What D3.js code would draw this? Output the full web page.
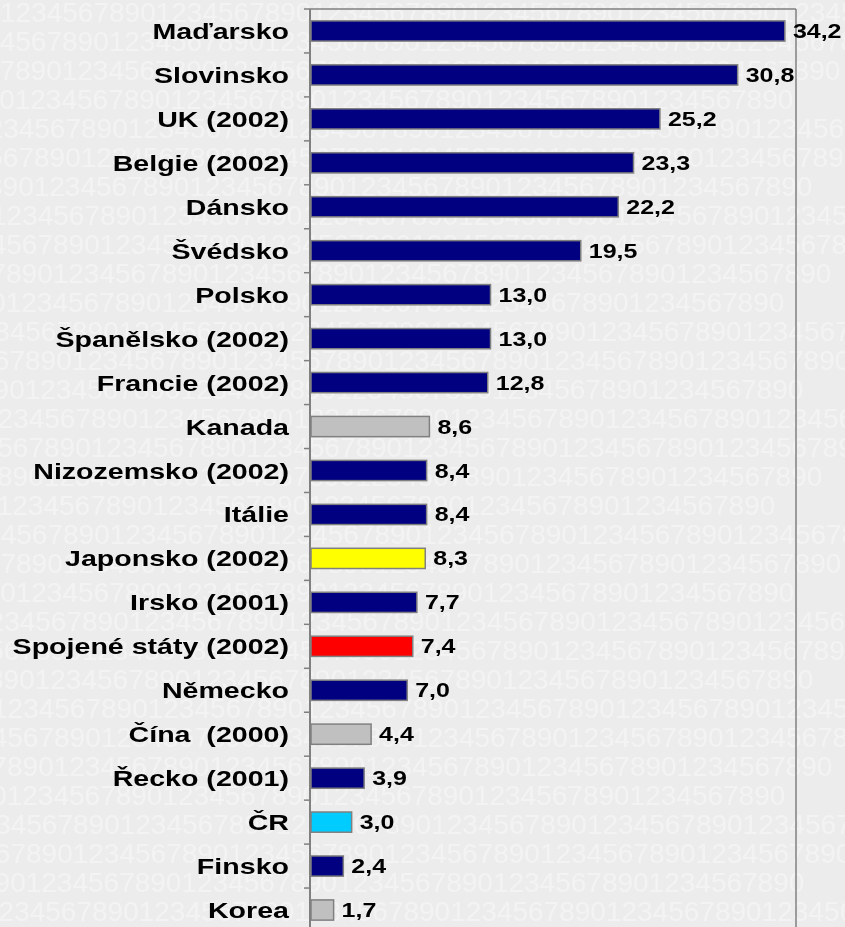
<!DOCTYPE html>
<html lang="cs">
<head>
  <meta charset="UTF-8">
  <title>Graf</title>
  <script src="https://d3js.org/d3.v7.min.js"></script>
  <style>
    body { margin: 0; background: #eeeeee; }
    #pozadi, svg { position: absolute; left: 0; top: 0; }
    text { font-family: "Liberation Sans", Arial, sans-serif; font-weight: bold; white-space: pre; }
  </style>
</head>
<body>
<canvas id="pozadi" width="845" height="927"></canvas>
<script>
var zeme = ["Maďarsko", "Slovinsko", "UK (2002)", "Belgie (2002)", "Dánsko", "Švédsko", "Polsko",
  "Španělsko (2002)", "Francie (2002)", "Kanada", "Nizozemsko (2002)", "Itálie", "Japonsko (2002)",
  "Irsko (2001)", "Spojené státy (2002)", "Německo", "Čína  (2000)", "Řecko (2001)", "ČR", "Finsko", "Korea"];
var hodnoty = [34.2, 30.8, 25.2, 23.3, 22.2, 19.5, 13.0, 13.0, 12.8, 8.6, 8.4, 8.4, 8.3, 7.7, 7.4, 7.0, 4.4, 3.9, 3.0, 2.4, 1.7];
var barvy = ["#000080", "#000080", "#000080", "#000080", "#000080", "#000080", "#000080", "#000080", "#000080",
  "#c0c0c0", "#000080", "#000080", "#ffff00", "#000080", "#ff0000", "#000080", "#c0c0c0", "#000080",
  "#00ccff", "#000080", "#c0c0c0"];

var W = 845, H = 927;
var kLeft = 310, kRight = 796, kTop = 9, kBottom = 932;

// vodoznak s cislicemi (jen textura pozadi)
var ctx = document.getElementById("pozadi").getContext("2d");
ctx.fillStyle = "#ececec";
ctx.fillRect(0, 0, W, H);
ctx.fillStyle = "#f3f3f3";
ctx.font = "28px 'Liberation Sans'";
var radek = d3.range(6).map(function() { return "1234567890"; }).join("");
for (var r = 0; r < 33; r++) {
  ctx.fillText(radek, -((r * 47) % 160), 22 + r * 29);
}

var svg = d3.select("body").append("svg")
  .attr("width", W).attr("height", H);

var x = d3.scaleLinear().domain([0, 35]).range([kLeft, kRight]);
var y = d3.scaleBand().domain(zeme).range([kTop, kBottom]).paddingInner(0.54).paddingOuter(0.27);
var step = y.step();

var fmt = function(v) { return d3.format(".1f")(v).replace(".", ","); };

// ramecek
svg.append("line").attr("x1", kLeft).attr("x2", kRight).attr("y1", kTop).attr("y2", kTop)
  .attr("stroke", "#808080").attr("stroke-width", 1.5);
svg.append("line").attr("x1", kRight).attr("x2", kRight).attr("y1", kTop).attr("y2", H)
  .attr("stroke", "#808080").attr("stroke-width", 1.5);
svg.append("line").attr("x1", kLeft).attr("x2", kLeft).attr("y1", kTop).attr("y2", H)
  .attr("stroke", "#808080").attr("stroke-width", 2);

// znacky mezi kategoriemi
svg.append("g").selectAll("line")
  .data(d3.range(0, zeme.length + 1)).enter().append("line")
  .attr("x1", kLeft - 6).attr("x2", kLeft)
  .attr("y1", function(d) { return kTop + d * step; })
  .attr("y2", function(d) { return kTop + d * step; })
  .attr("stroke", "#808080").attr("stroke-width", 1.5);

// sloupce
svg.append("g").selectAll("rect")
  .data(zeme).enter().append("rect")
  .attr("x", kLeft + 1)
  .attr("y", function(d) { return y(d); })
  .attr("width", function(d, i) { return x(hodnoty[i]) - kLeft - 1; })
  .attr("height", y.bandwidth())
  .attr("fill", function(d, i) { return barvy[i]; })
  .attr("stroke", "#808080").attr("stroke-width", 1.5);

// popisky kategorii
svg.append("g").selectAll("text")
  .data(zeme).enter().append("text")
  .attr("transform", function(d) {
    return "translate(289," + (y(d) + y.bandwidth() / 2 + 8) + ") scale(1.3,1)";
  })
  .attr("text-anchor", "end")
  .style("font-size", "22px")
  .attr("fill", "#000")
  .text(function(d) { return d; });

// hodnoty
svg.append("g").selectAll("text")
  .data(zeme).enter().append("text")
  .attr("transform", function(d, i) {
    return "translate(" + (x(hodnoty[i]) + 8) + "," + (y(d) + y.bandwidth() / 2 + 7) + ") scale(1.25,1)";
  })
  .style("font-size", "20px")
  .attr("fill", "#000")
  .text(function(d, i) { return fmt(hodnoty[i]); });
</script>
</body>
</html>
